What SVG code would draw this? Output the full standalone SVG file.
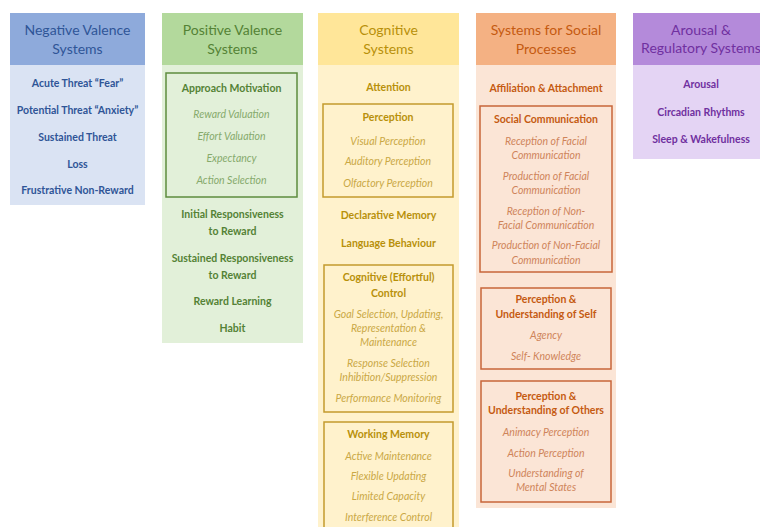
<svg xmlns="http://www.w3.org/2000/svg" width="760" height="527" viewBox="0 0 760 527">
  <style>
    text { font-family: Lato, "Open Sans", "Liberation Sans", sans-serif; text-anchor: middle; }
    .hd { font-size: 14px; }
    .it { font-size: 10.5px; font-weight: bold; }
    .sub { font-size: 10.5px; font-style: italic; }
    .box { fill: none; stroke-width: 1.5; }

    .neg-h { fill: #8eaadb; } .neg-b { fill: #dae3f3; } .neg-t { fill: #2f5597; }
    .pos-h { fill: #b3d99c; } .pos-b { fill: #e2f0d9; } .pos-t { fill: #548235; } .pos-s { fill: #86aa6c; } .pos-k { stroke: #5e8c3e; }
    .cog-h { fill: #ffe699; } .cog-b { fill: #fff2cc; } .cog-t { fill: #b8900a; } .cog-s { fill: #caa845; } .cog-k { stroke: #c49a2c; }
    .soc-h { fill: #f4b183; } .soc-b { fill: #fbe5d6; } .soc-t { fill: #c55a11; } .soc-s { fill: #cf845a; } .soc-k { stroke: #c8653a; }
    .aro-h { fill: #b48ada; } .aro-b { fill: #e4d4f4; } .aro-t { fill: #7030a0; }
  </style>

  <rect width="760" height="527" fill="#ffffff"/>

  <!-- Negative Valence Systems -->
  <g id="negative-valence">
    <rect class="neg-b" x="10" y="13" width="135" height="192"/>
    <rect class="neg-h" x="10" y="13" width="135" height="52"/>
    <text class="hd neg-t" x="77.5" y="35">Negative Valence</text>
    <text class="hd neg-t" x="77.5" y="54">Systems</text>
    <text class="it neg-t" x="77.5" y="87">Acute Threat “Fear”</text>
    <text class="it neg-t" x="77.5" y="114">Potential Threat “Anxiety”</text>
    <text class="it neg-t" x="77.5" y="141">Sustained Threat</text>
    <text class="it neg-t" x="77.5" y="168">Loss</text>
    <text class="it neg-t" x="77.5" y="194">Frustrative Non-Reward</text>
  </g>

  <!-- Positive Valence Systems -->
  <g id="positive-valence">
    <rect class="pos-b" x="162" y="13" width="141" height="330"/>
    <rect class="pos-h" x="162" y="13" width="141" height="52"/>
    <text class="hd pos-t" x="232.5" y="35">Positive Valence</text>
    <text class="hd pos-t" x="232.5" y="54">Systems</text>
    <g id="approach-motivation">
      <rect class="box pos-k" x="166" y="73" width="131" height="124"/>
      <text class="it pos-t" x="231.5" y="92">Approach Motivation</text>
      <text class="sub pos-s" x="231.5" y="118">Reward Valuation</text>
      <text class="sub pos-s" x="231.5" y="140">Effort Valuation</text>
      <text class="sub pos-s" x="231.5" y="162">Expectancy</text>
      <text class="sub pos-s" x="231.5" y="184">Action Selection</text>
    </g>
    <text class="it pos-t" x="232.5" y="218">Initial Responsiveness</text>
    <text class="it pos-t" x="232.5" y="235">to Reward</text>
    <text class="it pos-t" x="232.5" y="262">Sustained Responsiveness</text>
    <text class="it pos-t" x="232.5" y="279">to Reward</text>
    <text class="it pos-t" x="232.5" y="305">Reward Learning</text>
    <text class="it pos-t" x="232.5" y="332">Habit</text>
  </g>

  <!-- Cognitive Systems -->
  <g id="cognitive">
    <rect class="cog-b" x="318" y="13" width="141" height="514"/>
    <rect class="cog-h" x="318" y="13" width="141" height="52"/>
    <text class="hd cog-t" x="388.5" y="35">Cognitive</text>
    <text class="hd cog-t" x="388.5" y="54">Systems</text>
    <text class="it cog-t" x="388.5" y="91">Attention</text>
    <g id="perception">
      <rect class="box cog-k" x="323" y="104" width="130" height="93"/>
      <text class="it cog-t" x="388" y="121">Perception</text>
      <text class="sub cog-s" x="388" y="145">Visual Perception</text>
      <text class="sub cog-s" x="388" y="165">Auditory Perception</text>
      <text class="sub cog-s" x="388" y="187">Olfactory Perception</text>
    </g>
    <text class="it cog-t" x="388.5" y="219">Declarative Memory</text>
    <text class="it cog-t" x="388.5" y="247">Language Behaviour</text>
    <g id="cognitive-control">
      <rect class="box cog-k" x="324" y="265" width="129" height="147"/>
      <text class="it cog-t" x="388.5" y="281">Cognitive (Effortful)</text>
      <text class="it cog-t" x="388.5" y="297">Control</text>
      <text class="sub cog-s" x="388.5" y="318">Goal Selection, Updating,</text>
      <text class="sub cog-s" x="388.5" y="332">Representation &amp;</text>
      <text class="sub cog-s" x="388.5" y="346">Maintenance</text>
      <text class="sub cog-s" x="388.5" y="367">Response Selection</text>
      <text class="sub cog-s" x="388.5" y="381">Inhibition/Suppression</text>
      <text class="sub cog-s" x="388.5" y="402">Performance Monitoring</text>
    </g>
    <g id="working-memory">
      <rect class="box cog-k" x="324" y="422" width="129" height="115"/>
      <text class="it cog-t" x="388.5" y="438">Working Memory</text>
      <text class="sub cog-s" x="388.5" y="460">Active Maintenance</text>
      <text class="sub cog-s" x="388.5" y="480">Flexible Updating</text>
      <text class="sub cog-s" x="388.5" y="500">Limited Capacity</text>
      <text class="sub cog-s" x="388.5" y="521">Interference Control</text>
    </g>
  </g>

  <!-- Systems for Social Processes -->
  <g id="social">
    <rect class="soc-b" x="476" y="13" width="140" height="495"/>
    <rect class="soc-h" x="476" y="13" width="140" height="52"/>
    <text class="hd soc-t" x="546" y="35">Systems for Social</text>
    <text class="hd soc-t" x="546" y="54">Processes</text>
    <text class="it soc-t" x="546" y="92">Affiliation &amp; Attachment</text>
    <g id="social-communication">
      <rect class="box soc-k" x="480" y="106" width="132" height="166"/>
      <text class="it soc-t" x="546" y="123">Social Communication</text>
      <text class="sub soc-s" x="546" y="145">Reception of Facial</text>
      <text class="sub soc-s" x="546" y="159">Communication</text>
      <text class="sub soc-s" x="546" y="180">Production of Facial</text>
      <text class="sub soc-s" x="546" y="194">Communication</text>
      <text class="sub soc-s" x="546" y="215">Reception of Non-</text>
      <text class="sub soc-s" x="546" y="229">Facial Communication</text>
      <text class="sub soc-s" x="546" y="249">Production of Non-Facial</text>
      <text class="sub soc-s" x="546" y="264">Communication</text>
    </g>
    <g id="understanding-self">
      <rect class="box soc-k" x="481" y="288" width="130" height="81"/>
      <text class="it soc-t" x="546" y="303">Perception &amp;</text>
      <text class="it soc-t" x="546" y="318">Understanding of Self</text>
      <text class="sub soc-s" x="546" y="339">Agency</text>
      <text class="sub soc-s" x="546" y="360">Self- Knowledge</text>
    </g>
    <g id="understanding-others">
      <rect class="box soc-k" x="481" y="381" width="130" height="121"/>
      <text class="it soc-t" x="546" y="400">Perception &amp;</text>
      <text class="it soc-t" x="546" y="414">Understanding of Others</text>
      <text class="sub soc-s" x="546" y="436">Animacy Perception</text>
      <text class="sub soc-s" x="546" y="457">Action Perception</text>
      <text class="sub soc-s" x="546" y="477">Understanding of</text>
      <text class="sub soc-s" x="546" y="491">Mental States</text>
    </g>
  </g>

  <!-- Arousal & Regulatory Systems (runs past the right edge) -->
  <g id="arousal">
    <rect class="aro-b" x="633" y="13" width="140" height="146"/>
    <rect class="aro-h" x="633" y="13" width="140" height="52"/>
    <text class="hd aro-t" x="701" y="35">Arousal &amp;</text>
    <text class="hd aro-t" x="701" y="53">Regulatory Systems</text>
    <text class="it aro-t" x="701" y="88">Arousal</text>
    <text class="it aro-t" x="701" y="116">Circadian Rhythms</text>
    <text class="it aro-t" x="701" y="143">Sleep &amp; Wakefulness</text>
  </g>
</svg>
